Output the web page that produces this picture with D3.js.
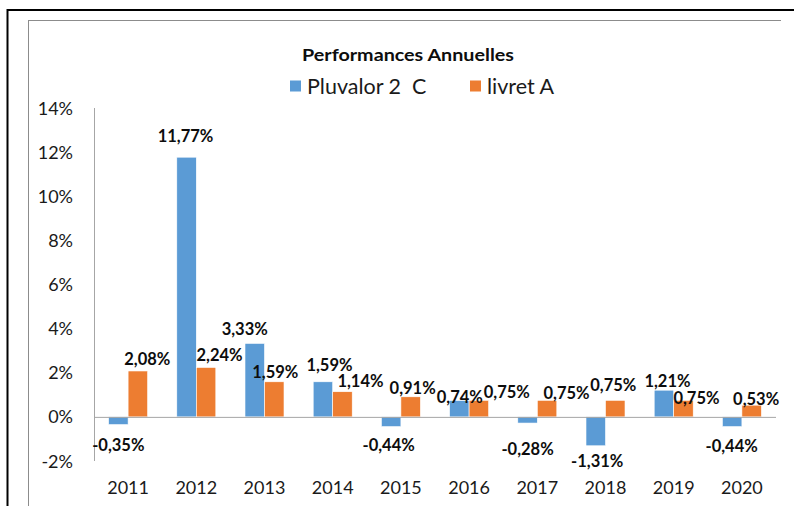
<!DOCTYPE html>
<html>
<head>
<meta charset="utf-8">
<script src="https://cdn.jsdelivr.net/npm/d3@7"></script>
<style>
  html, body { margin: 0; padding: 0; background: #fff; }
  svg { display: block; }
</style>
</head>
<body>
<svg id="chart" width="794" height="506"></svg>
<script>
// ---- data ----
const years = ["2011","2012","2013","2014","2015","2016","2017","2018","2019","2020"];
const pluvalor = [-0.35, 11.77, 3.33, 1.59, -0.44, 0.74, -0.28, -1.31, 1.21, -0.44];
const livretA = [2.08, 2.24, 1.59, 1.14, 0.91, 0.75, 0.75, 0.75, 0.75, 0.53];
const seriesNames = ["Pluvalor 2  C", "livret A"];
const yTicks = [-2, 0, 2, 4, 6, 8, 10, 12, 14];
const chartTitle = "Performances Annuelles";

// ---- layout / style ----
const colors = ["#5B9BD5", "#ED7D31"];
// manual label nudges [dx, dy] (as in the reference, to avoid overlaps)
const nudgeBlue = [[0,1],[-1,-9],[-10,-2.5],[6.5,-5],[-2.5,-0.5],[0.5,8.4],[0,7],[1.5,-4],[3.5,2.5],[-0.5,0.5]];
const nudgeOrange = [[9.5,0],[13.5,-0.5],[1,2],[18,1],[2,3],[28,3.3],[19.5,4.3],[-2,-3.4],[13,10],[4.5,6]];

const svg = d3.select("#chart");
const W = 794, H = 506;
const plot = { left: 94, right: 776, top: 108, bottom: 461 };

// frames
svg.append("line").attr("x1", 7).attr("x2", W).attr("y1", 10).attr("y2", 10)
  .attr("stroke", "#000").attr("stroke-width", 2);
svg.append("line").attr("x1", 7.5).attr("x2", 7.5).attr("y1", 9).attr("y2", H)
  .attr("stroke", "#000").attr("stroke-width", 2);
svg.append("line").attr("x1", 28).attr("x2", 781).attr("y1", 20.5).attr("y2", 20.5)
  .attr("stroke", "#8c8c8c").attr("stroke-width", 1);
svg.append("line").attr("x1", 28.5).attr("x2", 28.5).attr("y1", 20).attr("y2", H)
  .attr("stroke", "#8c8c8c").attr("stroke-width", 1);

const x = d3.scaleBand().domain(years).range([plot.left, plot.right]).padding(0);
const y = d3.scaleLinear().domain([-2, 14]).range([plot.bottom, plot.top]);
const barW = x.bandwidth() * 0.286;

const fmt = v => d3.format(".2f")(v).replace(".", ",").replace("\u2212", "-") + "%";

// y axis line
svg.append("line").attr("x1", plot.left + 0.5).attr("x2", plot.left + 0.5)
  .attr("y1", y(14)).attr("y2", y(-2)).attr("stroke", "#a6a6a6").attr("stroke-width", 1);

// y tick labels
svg.append("g").selectAll("text").data(yTicks).join("text")
  .attr("x", 73).attr("y", d => y(d) + 6.5)
  .attr("text-anchor", "end")
  .attr("font-family", "Lato, sans-serif").attr("font-size", 18).attr("fill", "#1a1a1a")
  .text(d => d + "%");

// x labels
svg.append("g").selectAll("text").data(years).join("text")
  .attr("x", d => x(d) + x.bandwidth() / 2).attr("y", 494)
  .attr("text-anchor", "middle")
  .attr("font-family", "Lato, sans-serif").attr("font-size", 18).attr("fill", "#1a1a1a")
  .text(d => d);

// bars
const series = [pluvalor, livretA];
series.forEach((vals, si) => {
  svg.append("g").selectAll("rect").data(vals).join("rect")
    .attr("x", (d, i) => x(years[i]) + x.bandwidth() / 2 - barW + si * barW)
    .attr("y", d => y(Math.max(0, d)))
    .attr("width", barW)
    .attr("height", d => Math.abs(y(d) - y(0)))
    .attr("fill", colors[si])
    .attr("stroke", "#fff").attr("stroke-width", 0.6);
});

// zero line
svg.append("line").attr("x1", plot.left).attr("x2", plot.right)
  .attr("y1", y(0) + 0.5).attr("y2", y(0) + 0.5).attr("stroke", "#a6a6a6").attr("stroke-width", 1);

// data labels
const fs = 16.5;
[[pluvalor, nudgeBlue], [livretA, nudgeOrange]].forEach(([vals, nudge], si) => {
  svg.append("g").selectAll("text").data(vals).join("text")
    .attr("x", (d, i) => x(years[i]) + x.bandwidth() / 2 - barW / 2 + si * barW + nudge[i][0])
    .attr("y", (d, i) => {
      const c = d >= 0 ? y(d) - 12 : y(d) + 19;
      return c + nudge[i][1] + fs * 0.36;
    })
    .attr("text-anchor", "middle")
    .attr("font-family", "Lato, sans-serif").attr("font-weight", "bold")
    .attr("font-size", fs).attr("fill", "#0d0d0d")
    .text(d => fmt(d));
});

// title
svg.append("text").attr("x", 408).attr("y", 61)
  .attr("text-anchor", "middle")
  .attr("font-family", "Lato, sans-serif").attr("font-weight", "bold")
  .attr("font-size", 17).attr("fill", "#0d0d0d")
  .attr("textLength", 212).attr("lengthAdjust", "spacingAndGlyphs")
  .text(chartTitle);

// legend
const legendX = [290, 470];
seriesNames.forEach((name, i) => {
  const g = svg.append("g");
  g.append("rect").attr("x", legendX[i]).attr("y", 80.5).attr("width", 11).attr("height", 11)
    .attr("fill", colors[i]);
  g.append("text").attr("x", legendX[i] + 17).attr("y", 93.5)
    .attr("font-family", "Lato, sans-serif").attr("font-size", 21.5).attr("fill", "#1a1a1a")
    .attr("xml:space", "preserve")
    .style("white-space", "pre")
    .text(name);
});
</script>
</body>
</html>
